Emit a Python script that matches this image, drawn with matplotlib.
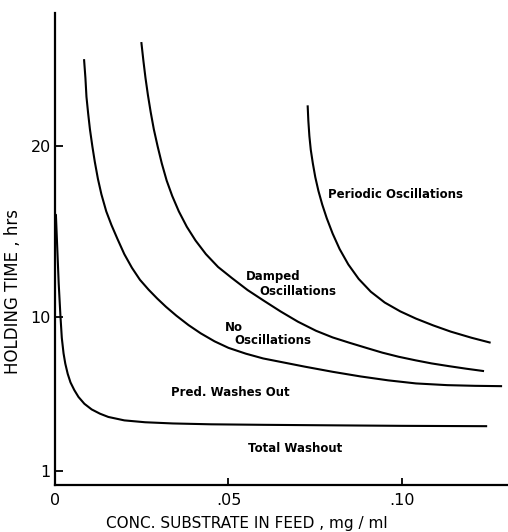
import matplotlib
matplotlib.use("Agg")
import matplotlib.pyplot as plt

plt.rcParams['font.family'] = ['DejaVu Sans']

# Boundary between total washout and predator washout
total_x = [0.0001, 0.0003, 0.0005, 0.0007, 0.0011, 0.0016, 0.0020, 0.0025,
           0.0030, 0.0037, 0.0045, 0.0056, 0.0068, 0.0085, 0.0106, 0.0130,
           0.0154, 0.0200, 0.0260, 0.0340, 0.0450, 0.0600, 0.0800, 0.1000,
           0.1245]
total_y = [15.8, 16.0, 15.0, 14.0, 12.0, 10.1, 8.8, 7.9,
           7.3, 6.7, 6.2, 5.75, 5.35, 4.95, 4.62, 4.37,
           4.18, 3.98, 3.87, 3.80, 3.75, 3.72, 3.69, 3.66,
           3.64]

# Boundary between predator washout and no oscillations
pred_x = [0.0084, 0.0088, 0.0091, 0.0096, 0.0101, 0.0108, 0.0115, 0.0124,
          0.0134, 0.0148, 0.0163, 0.0180, 0.0200, 0.0222, 0.0245, 0.0270,
          0.0295, 0.0320, 0.0350, 0.0385, 0.0420, 0.0460, 0.0500, 0.0550,
          0.0600, 0.0660, 0.0720, 0.0800, 0.0880, 0.0960, 0.1040, 0.1130,
          0.1210, 0.1288]
pred_y = [25.1, 24.0, 22.9, 21.9, 21.0, 20.0, 19.1, 18.1,
          17.2, 16.2, 15.4, 14.6, 13.7, 12.9, 12.2, 11.62,
          11.1, 10.62, 10.1, 9.55, 9.07, 8.6, 8.22, 7.88,
          7.6, 7.36, 7.12, 6.82, 6.55, 6.32, 6.14, 6.04,
          6.0, 5.98]

# Boundary between no oscillations and damped oscillations
damp_x = [0.0249, 0.0255, 0.0261, 0.0268, 0.0276, 0.0285, 0.0296, 0.0308,
          0.0322, 0.0338, 0.0357, 0.0380, 0.0405, 0.0435, 0.0470, 0.0510,
          0.0555, 0.0600, 0.0650, 0.0700, 0.0752, 0.0800, 0.0848, 0.0900,
          0.0943, 0.0990, 0.1039, 0.1085, 0.1135, 0.1185, 0.1236]
damp_y = [26.1, 25.0, 24.0, 23.0, 22.0, 21.0, 20.0, 19.0,
          18.0, 17.1, 16.2, 15.3, 14.5, 13.7, 12.95, 12.3,
          11.6, 11.0, 10.35, 9.75, 9.22, 8.83, 8.52, 8.2,
          7.94, 7.7, 7.49, 7.31, 7.15, 7.0, 6.86]

# Boundary between damped and periodic oscillations
per_x = [0.0728, 0.0730, 0.0733, 0.0737, 0.0743, 0.0750, 0.0759, 0.0770,
         0.0783, 0.0800, 0.0820, 0.0845, 0.0875, 0.0910, 0.0950, 0.0995,
         0.1040, 0.1090, 0.1140, 0.1200, 0.1255]
per_y = [22.4, 21.5, 20.6, 19.8, 19.0, 18.2, 17.4, 16.6,
         15.8, 14.9, 14.0, 13.1, 12.25, 11.5, 10.87, 10.35,
         9.93, 9.53, 9.17, 8.81, 8.52]

x_ticks = [0, 0.05, 0.10]
x_tick_labels = ["0", ".05", ".10"]
y_ticks = [1, 10, 20]
y_tick_labels = ["1", "10", "20"]

fig = plt.figure(figsize=(5.08, 5.32), dpi=100)
ax = fig.add_axes([0.108, 0.0883, 0.892, 0.8873])

for xs, ys in [(total_x, total_y), (pred_x, pred_y), (damp_x, damp_y), (per_x, per_y)]:
    ax.plot(xs, ys, color='black', lw=1.5, solid_capstyle='butt',
            solid_joinstyle='round')

ax.set_xlim(0, 0.1305)
ax.set_ylim(0.2, 27.8)

for side in ['top', 'right']:
    ax.spines[side].set_visible(False)
for side in ['left', 'bottom']:
    ax.spines[side].set_linewidth(1.6)

ax.set_xticks(x_ticks)
ax.set_xticklabels(x_tick_labels)
ax.set_yticks(y_ticks)
ax.set_yticklabels(y_tick_labels)
ax.tick_params(axis='x', direction='in', length=5, width=1.3, pad=6, labelsize=11.5)
ax.tick_params(axis='y', direction='in', length=6, width=1.3, pad=3, labelsize=11.5)

ax.set_xlabel("CONC. SUBSTRATE IN FEED , mg / ml", fontsize=11)
ax.set_ylabel("HOLDING TIME , hrs", fontsize=12)
ax.xaxis.set_label_coords(0.424, -0.066)
ax.yaxis.set_label_coords(-0.073, 0.409)

lab = dict(fontsize=8.5, fontweight='bold', va='center', ha='left')
ax.text(0.0787, 17.2, "Periodic Oscillations", **lab)
ax.text(0.0551, 12.4, "Damped", **lab)
ax.text(0.0589, 11.54, "Oscillations", **lab)
ax.text(0.0489, 9.4, "No", **lab)
ax.text(0.0517, 8.67, "Oscillations", **lab)
ax.text(0.0335, 5.63, "Pred. Washes Out", **lab)
ax.text(0.0555, 2.32, "Total Washout", **lab)

fig.savefig("out.png", dpi=100)
